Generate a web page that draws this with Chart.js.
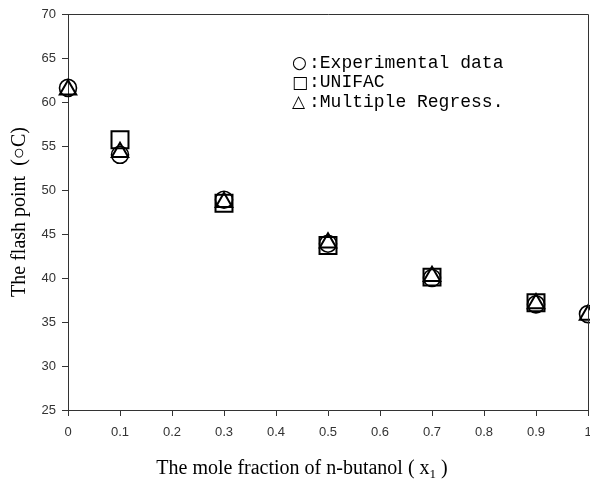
<!DOCTYPE html>
<html>
<head>
<meta charset="utf-8">
<script src="https://cdn.jsdelivr.net/npm/chart.js@4/dist/chart.umd.min.js"></script>
<style>
  html, body { margin: 0; padding: 0; background: #fff; }
  #wrap { width: 590px; height: 483px; position: relative; }
</style>
</head>
<body>
<div id="wrap"><canvas id="flashChart" width="590" height="483"></canvas></div>
<script>
// Mole fraction of n-butanol and the flash points
const moleFractions = [0, 0.1, 0.3, 0.5, 0.7, 0.9, 1.0];
const experimental = [61.6, 54.0, 48.9, 43.9, 40.0, 37.0, 35.9];
const unifac = [null, 55.7, 48.5, 43.7, 40.1, 37.2, null];
const regression = [61.4, 54.3, 48.6, 44.0, 40.2, 37.1, 35.8];

const xTicks = [0, 0.1, 0.2, 0.3, 0.4, 0.5, 0.6, 0.7, 0.8, 0.9, 1];
const legendSymbols = ['\u25CB', '\u25A1', '\u25B3'];
const legendLabels = [':Experimental data', ':UNIFAC', ':Multiple Regress.'];

function toPoints(values) {
  return moleFractions.map((x, i) => ({ x: x, y: values[i] })).filter(p => p.y !== null);
}

// top and right frame lines, legend text and x title
const extrasPlugin = {
  id: 'extras',
  afterDraw(chart) {
    const ctx = chart.ctx;
    const a = chart.chartArea;
    ctx.save();
    ctx.strokeStyle = '#333';
    ctx.lineWidth = 1;
    ctx.beginPath();
    ctx.moveTo(a.left, a.top + 0.5);
    ctx.lineTo(a.right + 0.5, a.top + 0.5);
    ctx.lineTo(a.right + 0.5, a.bottom);
    ctx.stroke();

    // legend
    ctx.fillStyle = '#000';
    ctx.textBaseline = 'middle';
    legendLabels.forEach((label, i) => {
      const y = 63 + i * 19.5;
      ctx.font = '17px "DejaVu Sans"';
      ctx.textAlign = 'left';
      ctx.fillText(legendSymbols[i], 292, y + 1);
      ctx.font = '18px "Liberation Mono"';
      ctx.fillText(label, 309, y);
    });

    // x axis title with subscript
    const main = 'The mole fraction of n-butanol ( x';
    ctx.font = '20px "Liberation Serif"';
    ctx.textBaseline = 'alphabetic';
    const w1 = ctx.measureText(main).width;
    ctx.font = '13px "Liberation Serif"';
    const w2 = ctx.measureText('1').width;
    ctx.font = '20px "Liberation Serif"';
    const w3 = ctx.measureText(' )').width;
    const total = w1 + w2 + w3;
    let x = 302 - total / 2;
    const base = 474;
    ctx.fillText(main, x, base);
    x += w1;
    ctx.font = '13px "Liberation Serif"';
    ctx.fillText('1', x, base + 4);
    x += w2;
    ctx.font = '20px "Liberation Serif"';
    ctx.fillText(' )', x, base);
    ctx.restore();
  }
};

const ctx = document.getElementById('flashChart').getContext('2d');
new Chart(ctx, {
  type: 'scatter',
  data: {
    datasets: [
      {
        label: 'Experimental data',
        data: toPoints(experimental),
        pointStyle: 'circle',
        pointRadius: 8.5,
        pointBorderWidth: 1.6,
        borderColor: '#000',
        backgroundColor: 'rgba(0,0,0,0)',
        order: 2
      },
      {
        label: 'UNIFAC',
        data: toPoints(unifac),
        pointStyle: 'rect',
        pointRadius: 12,
        pointBorderWidth: 2,
        borderColor: '#000',
        backgroundColor: 'rgba(0,0,0,0)',
        order: 1
      },
      {
        label: 'Multiple Regress.',
        data: toPoints(regression),
        pointStyle: 'triangle',
        pointRadius: 9.5,
        pointBorderWidth: 2,
        borderColor: '#000',
        backgroundColor: 'rgba(0,0,0,0)',
        order: 0
      }
    ]
  },
  options: {
    responsive: false,
    animation: false,
    clip: false,
    layout: { autoPadding: false, padding: { top: 14, right: 2, left: 0, bottom: 0 } },
    plugins: {
      legend: { display: false },
      tooltip: { enabled: false }
    },
    scales: {
      x: {
        type: 'linear',
        min: 0,
        max: 1,
        afterBuildTicks: scale => { scale.ticks = xTicks.map(v => ({ value: v })); },
        afterFit: scale => {
          scale.height = 73;
          scale.paddingRight = 0;
          scale.paddingLeft = 0;
        },
        ticks: {
          padding: 9,
          maxRotation: 0,
          autoSkip: false,
          color: '#333',
          font: { family: 'Liberation Sans', size: 13 },
          callback: v => String(Math.round(v * 10) / 10)
        },
        grid: { drawOnChartArea: false, drawTicks: true, tickLength: 6, color: '#333' },
        border: { display: true, color: '#333', width: 1 },
        title: { display: false }
      },
      y: {
        min: 25,
        max: 70,
        afterFit: scale => { scale.width = 68; },
        ticks: {
          stepSize: 5,
          padding: 6,
          color: '#333',
          font: { family: 'Liberation Sans', size: 13 }
        },
        grid: { drawOnChartArea: false, drawTicks: true, tickLength: 6, color: '#333' },
        border: { display: true, color: '#333', width: 1 },
        title: {
          display: true,
          text: 'The flash point  (\u25CBC)',
          color: '#000',
          font: { family: 'Liberation Serif', size: 20 },
          padding: { top: 8, bottom: 0 }
        }
      }
    }
  },
  plugins: [extrasPlugin]
});
</script>
</body>
</html>
